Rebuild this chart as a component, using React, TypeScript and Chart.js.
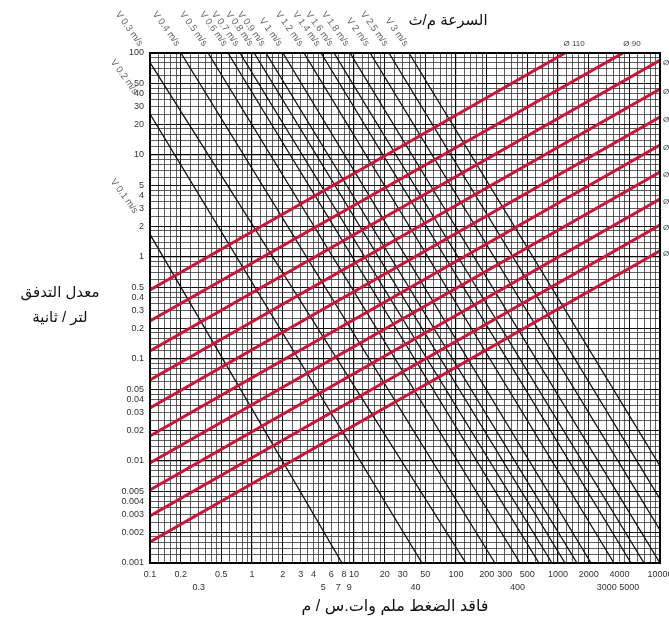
import React, { useEffect, useRef } from 'react';
import { Chart, registerables } from 'chart.js';

Chart.register(...registerables);

// ---- grid / tick data ----
const GRID_STEPS = [1, 1.2, 1.4, 1.6, 1.8, 2, 2.5, 3, 3.5, 4, 4.5, 5, 6, 7, 8, 9];
const X_DECADES = [0.1, 1, 10, 100, 1000];
const X_MAX = 10000;
const Y_DECADES = [0.001, 0.01, 0.1, 1, 10];
const Y_MAX = 100;
const X_LABELS_ROW1 = [0.1, 0.2, 0.5, 1, 2, 3, 4, 6, 8, 10, 20, 30, 50, 100, 200, 300, 500, 1000, 2000, 4000, 10000];
const X_LABELS_ROW2 = [0.3, 5, 7, 9, 40, 400, 3000, 5000];
const Y_LABELS = [100, 50, 40, 30, 20, 10, 5, 4, 3, 2, 1, 0.5, 0.4, 0.3, 0.2, 0.1, 0.05, 0.04, 0.03, 0.02, 0.01, 0.005, 0.004, 0.003, 0.002, 0.001];
const MAJOR_STEPS = [1, 2, 5];

// ---- velocity lines (black): pressure loss where each line meets Q=100 and Q=0.001 ----
const VELOCITIES = ['0.1', '0.2', '0.3', '0.4', '0.5', '0.6', '0.7', '0.8', '0.9', '1', '1.2', '1.4', '1.6', '1.8', '2', '2.5', '3'];
const VEL_Q_TOP = 100;
const VEL_Q_BOTTOM = 0.001;
const VEL_R_AT_TOP = [0.00914, 0.0434, 0.0873, 0.201, 0.371, 0.582, 0.762, 1.05, 1.37, 2.01, 3.23, 4.75, 6.37, 9.14, 14.4, 22.0, 34.6];
const VEL_R_AT_BOTTOM = [7.63, 46.4, 125, 241, 424, 651, 873, 1172, 1536, 2107, 3540, 5200, 6970, 10000, 15700, 24100, 37900];

// ---- pipe diameter lines (red) ----
const DIAMETERS = ['110', '90', '75', '63', '50', '40', '32', '25', '20', '16'];
const PIPE_START_R = [0.1, 0.1, 0.1, 0.1, 0.1, 0.1, 0.1, 0.1, 0.1, 0.1];
const PIPE_START_Q = [0.474, 0.236, 0.12, 0.0622, 0.0331, 0.0176, 0.00955, 0.0052, 0.00289, 0.00161];
const PIPE_END_R = [1172, 4335, 10000, 10000, 10000, 10000, 10000, 10000, 10000, 10000];
const PIPE_END_Q = [100, 100, 85, 44.4, 23.6, 12.5, 6.8, 3.7, 2.06, 1.15];

// ---- texts ----
const TITLE_X = 'فاقد الضغط ملم وات.س / م';
const TITLE_Y1 = 'معدل التدفق';
const TITLE_Y2 = 'لتر / ثانية';
const TITLE_TOP = 'السرعة م/ث';

const FONT = '"Liberation Sans", Arial, "DejaVu Sans", sans-serif';

function buildTicks(decades: number[], max: number) {
  const out: number[] = [];
  decades.forEach((d) => GRID_STEPS.forEach((s) => out.push(Number((d * s).toPrecision(8)))));
  out.push(max);
  return out;
}
const near = (a: number, b: number) => Math.abs(Math.log10(a) - Math.log10(b)) < 1e-6;
const inList = (v: number, list: number[]) => list.some((l) => near(v, l));
const fmt = (v: number) => String(Number(v.toPrecision(6)));
const isMajor = (v: number) => {
  const m = v / Math.pow(10, Math.floor(Math.log10(v) + 1e-9));
  return MAJOR_STEPS.some((s) => Math.abs(m - s) < 1e-6);
};
const isDecade = (v: number) => {
  const l = Math.log10(v);
  return Math.abs(l - Math.round(l)) < 1e-6;
};

const annotPlugin = {
  id: 'annot',
  afterDatasetsDraw(chart: any) {
    const { ctx, chartArea: a, scales } = chart;
    const xs = scales.x;
    const ys = scales.y;
    ctx.save();
    // frame
    ctx.lineWidth = 2;
    ctx.strokeStyle = '#000';
    ctx.strokeRect(a.left, a.top, a.right - a.left, a.bottom - a.top);

    // velocity labels
    ctx.fillStyle = '#666';
    ctx.font = `9.5px ${FONT}`;
    ctx.textAlign = 'right';
    ctx.textBaseline = 'middle';
    VELOCITIES.forEach((v, i) => {
      const x1 = xs.getPixelForValue(VEL_R_AT_TOP[i]);
      const y1 = ys.getPixelForValue(VEL_Q_TOP);
      const x2 = xs.getPixelForValue(VEL_R_AT_BOTTOM[i]);
      const y2 = ys.getPixelForValue(VEL_Q_BOTTOM);
      const slope = (y2 - y1) / (x2 - x1);
      let ax: number;
      let ay: number;
      if (x1 > a.left - 8) {
        ay = a.top - 8;
        ax = x1 + (ay - y1) / slope + 2;
      } else {
        ax = a.left - 14;
        ay = y1 + (ax - x1) * slope + 2;
      }
      ctx.save();
      ctx.translate(ax, ay);
      ctx.rotate((54 * Math.PI) / 180);
      ctx.fillText(`V ${v} m/s`, 0, 0);
      ctx.restore();
    });

    // diameter labels
    ctx.fillStyle = '#444';
    ctx.font = `8px ${FONT}`;
    DIAMETERS.forEach((d, i) => {
      const xe = xs.getPixelForValue(PIPE_END_R[i]);
      const ye = ys.getPixelForValue(PIPE_END_Q[i]);
      if (PIPE_END_Q[i] >= Y_MAX) {
        ctx.textAlign = 'center';
        ctx.fillText(`Ø ${d}`, xe + 9, a.top - 9);
      } else {
        ctx.textAlign = 'left';
        ctx.fillText(`Ø ${d}`, a.right + 3, ye + 3);
      }
    });

    // titles
    ctx.fillStyle = '#111';
    ctx.textAlign = 'center';
    ctx.direction = 'rtl';
    ctx.font = `16px ${FONT}`;
    ctx.fillText(TITLE_X, 395, 607);
    ctx.font = `15px ${FONT}`;
    ctx.fillText(TITLE_TOP, 448, 21);
    ctx.fillText(TITLE_Y1, 60, 293);
    ctx.fillText(TITLE_Y2, 60, 318);
    ctx.restore();
  },
};

export default function App() {
  const ref = useRef<HTMLCanvasElement | null>(null);
  useEffect(() => {
    if (!ref.current) return;
    const xTicks = buildTicks(X_DECADES, X_MAX);
    const yTicks = buildTicks(Y_DECADES, Y_MAX);

    const velSets = VELOCITIES.map((v, i) => ({
      label: `V ${v}`,
      data: [
        { x: VEL_R_AT_TOP[i], y: VEL_Q_TOP },
        { x: VEL_R_AT_BOTTOM[i], y: VEL_Q_BOTTOM },
      ],
      borderColor: '#111',
      borderWidth: 1.3,
      pointRadius: 0,
      tension: 0,
      order: 2,
    }));
    const pipeSets = DIAMETERS.map((d, i) => ({
      label: `Ø ${d}`,
      data: [
        { x: PIPE_START_R[i], y: PIPE_START_Q[i] },
        { x: PIPE_END_R[i], y: PIPE_END_Q[i] },
      ],
      borderColor: '#cc1438',
      borderWidth: 3,
      pointRadius: 0,
      tension: 0,
      order: 1,
    }));

    const gridColor = (c: any) => {
      const v = c.tick && c.tick.value;
      if (!v) return '#2a2a2a';
      return isDecade(v) ? '#000' : isMajor(v) ? '#111' : '#2a2a2a';
    };
    const gridWidth = (c: any) => {
      const v = c.tick && c.tick.value;
      if (!v) return 0.75;
      return isDecade(v) ? 1.2 : isMajor(v) ? 1 : 0.75;
    };

    const chart = new Chart(ref.current, {
      type: 'line',
      data: { datasets: [...pipeSets, ...velSets] as any },
      options: {
        animation: false,
        responsive: false,
        events: [],
        layout: { padding: { top: 53, right: 9, left: 0, bottom: 0 } },
        plugins: { legend: { display: false }, tooltip: { enabled: false }, title: { display: false } },
        scales: {
          x: {
            type: 'logarithmic',
            min: 0.1,
            max: X_MAX,
            afterBuildTicks: (s: any) => {
              s.ticks = xTicks.map((value) => ({ value }));
            },
            afterFit: (s: any) => {
              s.height = 63;
              s.paddingLeft = 0;
              s.paddingRight = 0;
            },
            border: { display: false },
            grid: { drawTicks: false, color: gridColor, lineWidth: gridWidth },
            ticks: {
              autoSkip: false,
              maxRotation: 0,
              minRotation: 0,
              padding: 5,
              color: '#333',
              font: { family: FONT, size: 9, lineHeight: 1.45 },
              callback: (val: any) => {
                const v = Number(val);
                if (inList(v, X_LABELS_ROW1)) return fmt(v);
                if (inList(v, X_LABELS_ROW2)) return ['', fmt(v)];
                return '';
              },
            },
          },
          y: {
            type: 'logarithmic',
            min: 0.001,
            max: Y_MAX,
            afterBuildTicks: (s: any) => {
              s.ticks = yTicks.map((value) => ({ value }));
            },
            afterFit: (s: any) => {
              s.width = 150;
              s.paddingTop = 0;
              s.paddingBottom = 0;
            },
            border: { display: false },
            grid: { drawTicks: false, color: gridColor, lineWidth: gridWidth },
            ticks: {
              autoSkip: false,
              padding: 6,
              color: '#333',
              font: { family: FONT, size: 9, lineHeight: 1 },
              callback: (val: any) => {
                const v = Number(val);
                return inList(v, Y_LABELS) ? fmt(v) : '';
              },
            },
          },
        },
      } as any,
      plugins: [annotPlugin],
    });
    return () => chart.destroy();
  }, []);

  return (
    <div style={{ position: 'fixed', left: 0, top: 0, width: 669, height: 626, background: '#fff' }}>
      <canvas ref={ref} width={669} height={626} style={{ display: 'block', width: 669, height: 626 }} />
    </div>
  );
}
